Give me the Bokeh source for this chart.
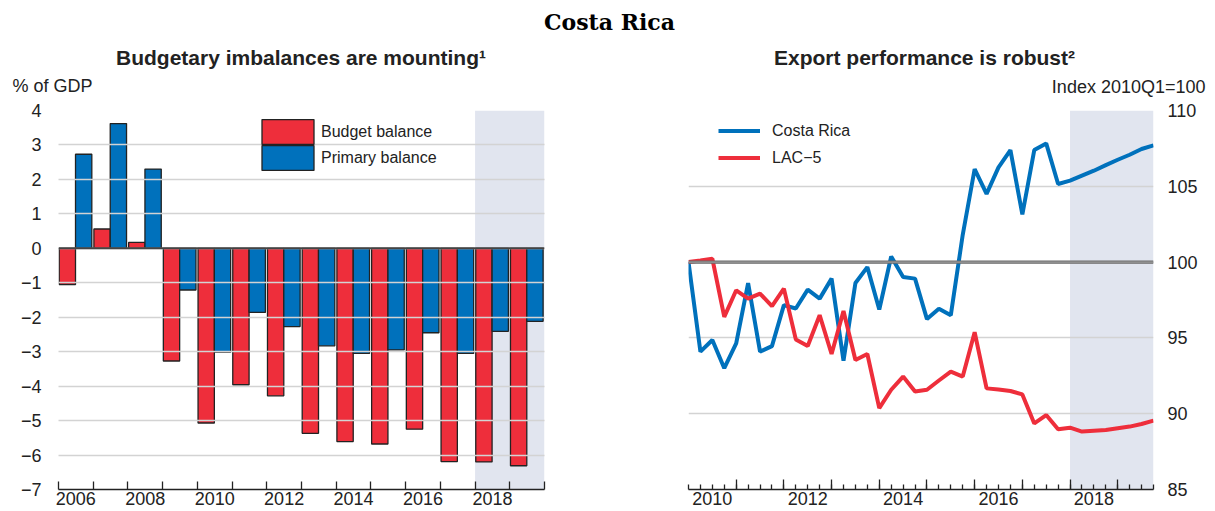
from bokeh.plotting import figure
from bokeh.models import (Range1d, FixedTicker, Span, BoxAnnotation, Grid,
                          Legend, LegendItem, ColumnDataSource)
from bokeh.layouts import column, row
from bokeh.embed import file_html
from bokeh.resources import INLINE
from bokeh.core.properties import value

# ---------------- data ----------------
main_title = "Costa Rica"

left_title = "Budgetary imbalances are mounting\u00b9"
left_unit = "% of GDP"
years = [2006, 2007, 2008, 2009, 2010, 2011, 2012, 2013, 2014, 2015, 2016, 2017, 2018, 2019]
budget_balance = [-1.05, 0.56, 0.17, -3.27, -5.07, -3.96, -4.28, -5.37, -5.61, -5.68, -5.25, -6.19, -6.20, -6.31]
primary_balance = [2.73, 3.62, 2.30, -1.21, -3.01, -1.86, -2.27, -2.83, -3.05, -2.95, -2.45, -3.05, -2.41, -2.12]
left_y_ticks = [-7, -6, -5, -4, -3, -2, -1, 0, 1, 2, 3, 4]
left_x_labels = ["2006", "2008", "2010", "2012", "2014", "2016", "2018"]
left_projection_start = 2018

right_title = "Export performance is robust\u00b2"
right_unit = "Index 2010Q1=100"
quarter_years = [2010, 2011, 2012, 2013, 2014, 2015, 2016, 2017, 2018, 2019]
costa_rica = [100.0, 94.09, 94.86, 93.0, 94.64, 98.62, 94.09, 94.46, 97.16, 96.94,
              98.18, 97.59, 98.91, 93.5, 98.62, 99.67, 96.87, 100.37, 99.02, 98.91,
              96.24, 96.93, 96.5, 101.8, 106.14, 104.5, 106.25, 107.39, 103.14, 107.39,
              107.83, 105.15, 105.37, 105.7, 106.03, 106.4, 106.75, 107.08, 107.46, 107.7]
lac5 = [100.0, 100.1, 100.22, 96.39, 98.14, 97.59, 97.92, 97.09, 98.25, 94.9,
        94.46, 96.5, 93.94, 96.78, 93.54, 93.94, 90.37, 91.58, 92.45, 91.47,
        91.58, 92.19, 92.78, 92.45, 95.37, 91.67, 91.6, 91.5, 91.27, 89.36,
        89.91, 88.97, 89.08, 88.82, 88.88, 88.93, 89.04, 89.15, 89.32, 89.54]
right_y_ticks = [85, 90, 95, 100, 105, 110]
right_x_labels = ["2010", "2012", "2014", "2016", "2018"]
right_projection_start = 2018

# ---------------- style ----------------
FONT = "Liberation Sans"
TXT = "#222222"
RED = "#EE2E3B"
BLUE = "#0071BC"
SHADE = "#E1E5EF"
GRID = "#D3D3D3"
EDGE = "#222222"
PAGE_W = 1215
HEAD_H = 98
PANEL_H = 413
FRAME_H = 379


def minus(v):
    return str(v).replace("-", "\u2212")


def base_fig(width, xr, yr, mbl, mbr, yloc):
    p = figure(width=width, height=PANEL_H, x_range=xr, y_range=yr,
               output_backend="svg", toolbar_location=None,
               y_axis_location=yloc,
               min_border_left=mbl, min_border_right=mbr,
               min_border_top=12, min_border_bottom=PANEL_H - 12 - FRAME_H)
    p.outline_line_color = None
    p.background_fill_color = "white"
    p.border_fill_color = "white"
    p.xgrid.visible = False
    p.ygrid.grid_line_color = GRID
    p.ygrid.grid_line_width = 1.5
    return p


def style_yaxis(ax, ticks, standoff):
    ax.ticker = FixedTicker(ticks=ticks)
    ax.major_label_overrides = {t: minus(t) for t in ticks}
    ax.axis_line_color = None
    ax.major_tick_line_color = None
    ax.minor_tick_line_color = None
    ax.major_tick_in = 0
    ax.major_tick_out = 0
    ax.minor_tick_in = 0
    ax.minor_tick_out = 0
    ax.major_label_standoff = standoff
    ax.major_label_text_font = FONT
    ax.major_label_text_font_size = "18px"
    ax.major_label_text_color = TXT


def style_xaxis(ax, label_pos, labels, minor, minor_in):
    ax.ticker = FixedTicker(ticks=label_pos, minor_ticks=minor)
    ax.major_label_overrides = dict(zip(label_pos, labels))
    ax.axis_line_color = EDGE
    ax.axis_line_width = 1.5
    ax.major_tick_line_color = None
    ax.major_tick_in = 0
    ax.major_tick_out = 0
    ax.minor_tick_line_color = EDGE
    ax.minor_tick_line_width = 1.3
    ax.minor_tick_in = minor_in
    ax.minor_tick_out = 0
    ax.major_label_standoff = 2
    ax.major_label_text_font = FONT
    ax.major_label_text_font_size = "18px"
    ax.major_label_text_color = TXT


def bar_legend(label, renderer, loc):
    return Legend(items=[LegendItem(label=label, renderers=[renderer])],
                  location=loc, glyph_width=65, glyph_height=31, spacing=0,
                  padding=0, margin=0, border_line_color=None, background_fill_alpha=0,
                  label_standoff=1, label_text_font=FONT, label_text_font_size="16px",
                  label_text_color=TXT)


# ---------------- header (titles, units) in pixel coordinates ----------------
ph = figure(width=PAGE_W, height=HEAD_H, x_range=Range1d(0, PAGE_W), y_range=Range1d(HEAD_H, 0),
            output_backend="svg", toolbar_location=None, min_border=0)
ph.axis.visible = False
ph.grid.visible = False
ph.outline_line_color = None


def head_text(x, y, txt, align, size, style="normal", font=FONT, color=TXT):
    ph.text(x=[x], y=[y], text=[txt], text_align=align, text_baseline="middle",
            text_font=value(font), text_font_style=style, text_font_size=size,
            text_color=color)


head_text(609, 21.5, main_title, "center", "22px", "bold", "DejaVu Serif", "#000000")
head_text(300.5, 57, left_title, "center", "21px", "bold")
head_text(924, 57, right_title, "center", "21px", "bold")
head_text(12, 85.5, left_unit, "left", "18px")
head_text(1205, 86, right_unit, "right", "18px")

# ---------------- left panel ----------------
p1 = base_fig(600, Range1d(years[0], years[-1] + 1), Range1d(-7, 4), 58, 56, "left")
p1.add_layout(BoxAnnotation(left=left_projection_start, fill_color=SHADE, fill_alpha=1,
                            line_color=None, level="image"))
p1.ygrid.ticker = FixedTicker(ticks=left_y_ticks)
p1.ygrid.level = "guide"

src1 = ColumnDataSource(dict(
    xr=[y + 0.255 for y in years], xb=[y + 0.725 for y in years],
    budget=budget_balance, primary=primary_balance))
r_budget = p1.vbar(x="xr", top="budget", bottom=0, width=0.47, source=src1,
                   fill_color=RED, line_color=EDGE, line_width=1.3)
r_primary = p1.vbar(x="xb", top="primary", bottom=0, width=0.47, source=src1,
                    fill_color=BLUE, line_color=EDGE, line_width=1.3)
p1.add_layout(Span(location=0, dimension="width", line_color="#444444", line_width=2))

style_yaxis(p1.yaxis[0], left_y_ticks, 17)
style_xaxis(p1.xaxis[0], [int(s) + 0.5 for s in left_x_labels], left_x_labels,
            list(range(years[0], years[-1] + 2)), 8)

p1.add_layout(bar_legend("Budget balance", r_budget, (197, 342)))
p1.add_layout(bar_legend("Primary balance", r_primary, (197, 316)))

# ---------------- right panel ----------------
qx = [y + q / 4 for y in quarter_years for q in range(4)]
p2 = base_fig(615, Range1d(qx[0], qx[-1]), Range1d(85, 110), 88, 62, "right")
p2.add_layout(BoxAnnotation(left=right_projection_start, fill_color=SHADE, fill_alpha=1,
                            line_color=None, level="image"))
p2.ygrid.ticker = FixedTicker(ticks=right_y_ticks)
p2.add_layout(Span(location=100, dimension="width", line_color="#6A6A6A", line_width=3.2))
p2.add_layout(Span(location=100, dimension="width", line_color="#A8A8A8", line_width=1))

# long year ticks at the bottom (10 px tall)
y0 = right_y_ticks[0]
tick_len = 10 * (right_y_ticks[-1] - right_y_ticks[0]) / FRAME_H
try:
    yr_ticks = Grid(dimension=0, ticker=FixedTicker(ticks=quarter_years),
                    cross_bounds=(y0, y0 + tick_len),
                    grid_line_color=EDGE, grid_line_width=1.3)
    p2.add_layout(yr_ticks)
except Exception:
    pass

src2 = ColumnDataSource(dict(x=qx, cr=costa_rica, lac=lac5))
r_cr = p2.line(x="x", y="cr", source=src2, line_color=BLUE, line_width=4)
r_lac = p2.line(x="x", y="lac", source=src2, line_color=RED, line_width=4)

style_yaxis(p2.yaxis[0], right_y_ticks, 14)
style_xaxis(p2.xaxis[0], [int(s) + 0.5 for s in right_x_labels], right_x_labels, qx, 5)

leg2 = Legend(items=[LegendItem(label="Costa Rica", renderers=[r_cr]),
                     LegendItem(label="LAC\u22125", renderers=[r_lac])],
              location=(30, 318), glyph_width=42, glyph_height=27, spacing=0,
              padding=0, margin=0, border_line_color=None, background_fill_alpha=0,
              label_standoff=12, label_text_font=FONT, label_text_font_size="16px",
              label_text_color=TXT)
p2.add_layout(leg2)

layout = column(ph, row(p1, p2))
open("out.html", "w").write(file_html(layout, INLINE))
